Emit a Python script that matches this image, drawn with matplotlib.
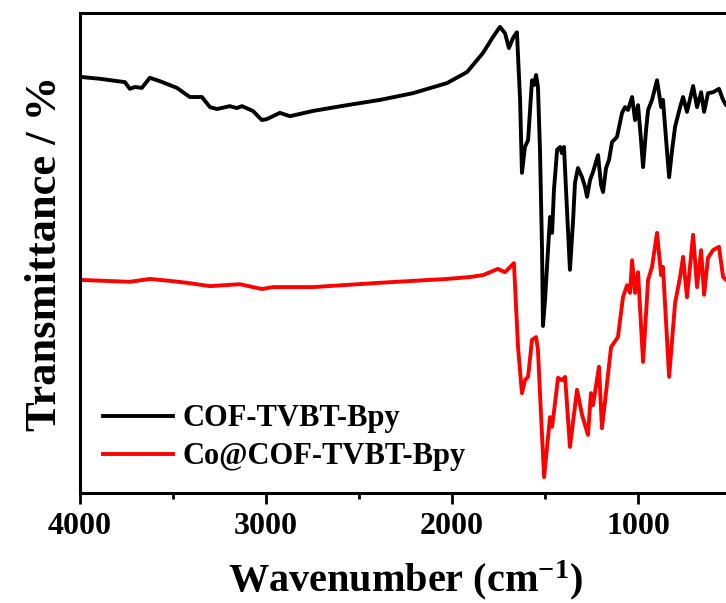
"""FT-IR spectra of COF-TVBT-Bpy and Co@COF-TVBT-Bpy."""

import matplotlib
matplotlib.use("Agg")
import matplotlib.pyplot as plt
from matplotlib.ticker import MultipleLocator

# ── Data ──────────────────────────────────────────────────────────────────────

cof_wn = [4000, 3892, 3758, 3731, 3704, 3667, 3624, 3570, 3478, 3409, 3344,
          3301, 3263, 3194, 3156, 3129, 3070, 3022, 2995, 2925, 2871, 2747,
          2565, 2387, 2210, 2027, 1919, 1833, 1780, 1742, 1715, 1694, 1672,
          1651, 1634, 1624, 1608, 1591, 1570, 1559, 1548, 1538, 1527, 1516,
          1511, 1500, 1484, 1473, 1462, 1452, 1435, 1419, 1409, 1398, 1382,
          1366, 1349, 1339, 1323, 1301, 1285, 1274, 1258, 1242, 1215, 1199,
          1188, 1172, 1156, 1140, 1113, 1086, 1070, 1054, 1032, 1016, 1000,
          984, 973, 957, 946, 925, 898, 876, 866, 849, 833, 817, 801, 774,
          758, 737, 704, 683, 661, 645, 624, 597, 565, 543, 527, 500]
cof_t = [86.7, 86.3, 85.6, 84.2, 84.6, 84.4, 86.5, 85.8, 84.4, 82.5, 82.5,
         80.4, 80.0, 80.6, 80.2, 80.6, 79.6, 77.7, 77.9, 79.2, 78.5, 79.6,
         80.8, 81.9, 83.3, 85.4, 87.7, 91.7, 95.0, 97.1, 95.8, 92.7, 94.8,
         96.0, 81.9, 66.7, 72.1, 73.5, 86.0, 85.0, 87.1, 84.6, 71.5, 50.6,
         34.8, 40.2, 50.6, 57.5, 54.2, 63.1, 71.5, 72.1, 70.8, 72.1, 59.0,
         46.5, 56.9, 64.6, 67.7, 65.8, 63.8, 61.7, 65.2, 66.9, 70.4, 64.2,
         62.7, 67.7, 69.4, 73.1, 74.2, 79.2, 80.4, 79.8, 82.5, 77.7, 80.8,
         73.5, 67.9, 75.6, 79.8, 81.9, 86.0, 80.4, 81.9, 73.5, 65.8, 71.5,
         76.3, 80.4, 82.5, 79.4, 84.8, 80.4, 83.5, 79.4, 83.3, 83.5, 84.2,
         81.9, 80.8, 81.5]

co_wn = [4000, 3731, 3624, 3516, 3425, 3301, 3140, 3022, 2962, 2747, 2387,
         2027, 1903, 1833, 1753, 1715, 1667, 1645, 1624, 1608, 1591, 1570,
         1548, 1538, 1522, 1505, 1489, 1473, 1462, 1446, 1430, 1409, 1392,
         1366, 1328, 1301, 1285, 1269, 1253, 1242, 1210, 1194, 1172, 1145,
         1108, 1081, 1059, 1043, 1032, 1016, 1000, 973, 946, 925, 898, 876,
         866, 833, 801, 774, 758, 737, 704, 683, 661, 645, 624, 597, 565,
         543, 527, 500]
co_t = [44.4, 44.0, 44.6, 44.2, 43.8, 43.1, 43.5, 42.5, 42.9, 42.9, 43.8,
        44.6, 45.0, 45.4, 46.7, 46.0, 47.9, 30.4, 20.8, 23.5, 24.2, 31.9,
        32.5, 29.8, 16.7, 3.3, 9.6, 15.8, 13.8, 18.8, 24.0, 23.5, 24.2,
        9.6, 21.5, 16.3, 14.2, 12.1, 20.8, 18.3, 26.3, 13.5, 21.0, 30.4,
        32.5, 40.8, 43.3, 41.7, 48.5, 41.7, 46.0, 27.3, 44.4, 47.1, 54.2,
        45.4, 47.1, 24.2, 39.6, 45.0, 49.2, 40.8, 53.8, 42.9, 50.6, 41.3,
        49.0, 50.6, 51.3, 45.0, 44.4, 44.8]

labels = ["COF-TVBT-Bpy", "Co@COF-TVBT-Bpy"]

# ── Style ─────────────────────────────────────────────────────────────────────

plt.rcParams.update({
    "font.family":       "Liberation Serif",
    "font.weight":       "bold",
    "axes.labelweight":  "bold",
    "mathtext.fontset":  "custom",
    "mathtext.rm":       "Liberation Serif:bold",
    "mathtext.default":  "rm",
    "axes.linewidth":    2.2,
    "xtick.major.width": 2.0,
    "xtick.minor.width": 2.0,
    "xtick.major.size":  8,
    "xtick.minor.size":  4.5,
})

LINEWIDTH = 2.8

fig = plt.figure(figsize=(7.26, 6.03), dpi=100)
ax = fig.add_axes([0.110, 0.1824, 0.897, 0.796])

ax.plot(cof_wn, cof_t, color="black", linewidth=LINEWIDTH, label=labels[0])
ax.plot(co_wn, co_t, color="#ff0000", linewidth=LINEWIDTH, label=labels[1])

ax.set_xlim(4000, 500)
ax.set_ylim(0, 100)
ax.xaxis.set_major_locator(MultipleLocator(1000))
ax.xaxis.set_minor_locator(MultipleLocator(500))
ax.tick_params(axis="x", which="both", direction="out", labelsize=23, pad=6)
ax.set_yticks([])
ax.spines["right"].set_visible(False)

ax.set_xlabel("Wavenumber (cm$^{-1}$)", fontsize=29, labelpad=12)
ax.set_ylabel("Transmittance / %", fontsize=32, labelpad=11)

ax.legend(loc="lower left", bbox_to_anchor=(0.035, 0.045), frameon=False,
          fontsize=22, handlelength=2.3, handletextpad=0.3,
          labelspacing=0.3, borderpad=0, borderaxespad=0)

fig.savefig("out.png", dpi=100)
